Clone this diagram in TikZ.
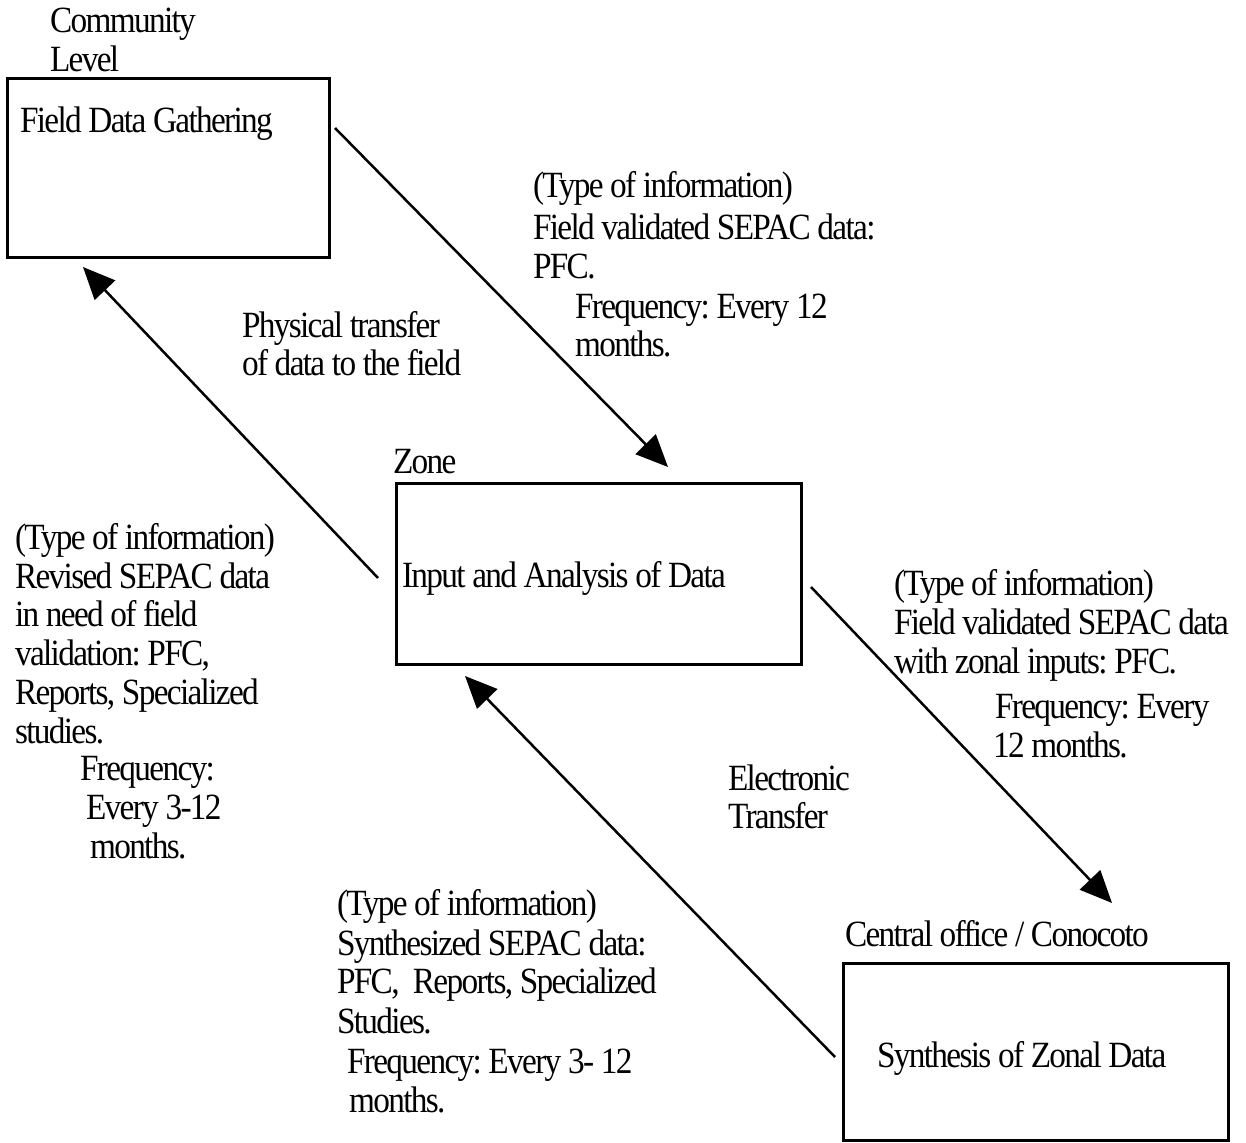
\documentclass[tikz,border=0pt]{standalone}
\usepackage{fontspec}
\setmainfont{Liberation Serif}[FakeStretch=0.9,LetterSpace=-4.5]
\usetikzlibrary{arrows.meta}
\frenchspacing
\begin{document}
\begin{tikzpicture}[x=1pt,y=-1pt,
  box/.style={draw, line width=3pt, inner sep=0pt, outer sep=0pt, anchor=north west},
  txt/.style={anchor=base west, inner sep=0pt, outer sep=0pt, font=\fontsize{37}{40}\selectfont\frenchspacing},
  conn/.style={line width=2.5pt, -{Triangle[length=32pt,width=28pt]}}]
\useasboundingbox (0,0) rectangle (1246,1142);
\fill[white] (0,0) rectangle (1246,1142);
% boxes
\node[box, minimum width=322pt, minimum height=178pt] (b1) at (7,79) {};
\node[box, minimum width=405pt, minimum height=181pt] (b2) at (396,483) {};
\node[box, minimum width=385pt, minimum height=177pt] (b3) at (843,963) {};
% connector ends
\coordinate (a1s) at (335,128);  \coordinate (a1e) at (668,467);
\coordinate (a2s) at (378,578);  \coordinate (a2e) at (83,267);
\coordinate (a3s) at (811,587);  \coordinate (a3e) at (1112,903);
\coordinate (a4s) at (835,1057); \coordinate (a4e) at (465,676);
\draw[conn] (a1s) -- (a1e);
\draw[conn] (a2s) -- (a2e);
\draw[conn] (a3s) -- (a3e);
\draw[conn] (a4s) -- (a4e);
% box titles and contents
\node[txt] (c1) at (50,33) {Community};
\node[txt] (c2) at (50,72) {Level};
\node[txt] (b1t) at (20,133) {Field Data Gathering};
\node[txt] (z1) at (393,473) {Zone};
\node[txt] (b2t) at (402,587) {Input and Analysis of Data};
\node[txt] (co) at (845,946) {Central office / Conocoto};
\node[txt] (b3t) at (877,1067) {Synthesis of Zonal Data};
% top right block
\node[txt] (tr1) at (533,197) {(Type of information)};
\node[txt] (tr2) at (533,239) {Field validated SEPAC data:};
\node[txt] (tr3) at (533,278) {PFC.};
\node[txt] (tr4) at (575,318) {Frequency: Every 12};
\node[txt] (tr5) at (575,356) {months.};
% physical transfer
\node[txt] (p1) at (242,337) {Physical transfer};
\node[txt] (p2) at (242,375) {of data to the field};
% left block
\node[txt] (l1) at (15,549) {(Type of information)};
\node[txt] (l2) at (15,588) {Revised SEPAC data};
\node[txt] (l3) at (15,626) {in need of field};
\node[txt] (l4) at (15,665) {validation: PFC,};
\node[txt] (l5) at (15,704) {Reports, Specialized};
\node[txt] (l6) at (15,743) {studies.};
\node[txt] (l7) at (80,780) {Frequency:};
\node[txt] (l8) at (86,819) {Every 3-12};
\node[txt] (l9) at (90,858) {months.};
% right block
\node[txt] (r1) at (894,595) {(Type of information)};
\node[txt] (r2) at (894,634) {Field validated SEPAC data};
\node[txt] (r3) at (894,673) {with zonal inputs: PFC.};
\node[txt] (r4) at (995,718) {Frequency: Every};
\node[txt] (r5) at (993,757) {12 months.};
% electronic transfer
\node[txt] (e1) at (728,790) {Electronic};
\node[txt] (e2) at (728,828) {Transfer};
% bottom block
\node[txt] (s1) at (337,915) {(Type of information)};
\node[txt] (s2) at (337,955) {Synthesized SEPAC data:};
\node[txt] (s3) at (337,993) {PFC,\ \ Reports, Specialized};
\node[txt] (s4) at (337,1033) {Studies.};
\node[txt] (s5) at (347,1073) {Frequency: Every 3- 12};
\node[txt] (s6) at (349,1112) {months.};
\end{tikzpicture}
\end{document}
